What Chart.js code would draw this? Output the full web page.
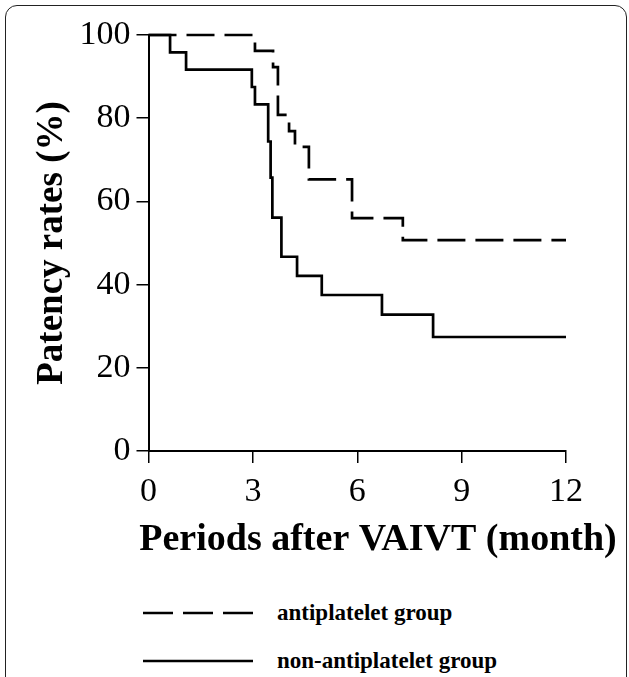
<!DOCTYPE html>
<html><head><meta charset="utf-8">
<script src="https://cdn.jsdelivr.net/npm/chart.js@4"></script>
<style>
html,body{margin:0;padding:0;background:#fff;width:629px;height:677px;overflow:hidden;font-family:"Liberation Serif",serif;}
#frame{position:absolute;left:5px;top:5px;width:622px;height:720px;border:1.5px solid #222;border-radius:12px;box-sizing:border-box;}
#wrap{position:absolute;left:0;top:0;width:629px;height:570px;}
.leg{position:absolute;left:143px;width:480px;height:30px;}
.leg svg{position:absolute;left:0;top:0;}
.leg span{position:absolute;left:134px;top:0;line-height:30px;font-weight:bold;font-size:23px;color:#000;font-family:"Liberation Serif",serif;white-space:nowrap;}
</style></head>
<body>
<div id="frame"></div>
<div id="wrap"><canvas id="c" width="629" height="570"></canvas></div>
<div class="leg" style="top:598px"><svg width="120" height="30"><line x1="0" y1="15" x2="112" y2="15" stroke="#000" stroke-width="2.6" stroke-dasharray="30 10"/></svg><span id="l1"></span></div>
<div class="leg" style="top:646px"><svg width="120" height="30"><line x1="0" y1="15" x2="110" y2="15" stroke="#000" stroke-width="2.6"/></svg><span id="l2"></span></div>
<script>
// ---- data ----
const antiTimes = [0, 3.06, 3.58, 3.72, 4.04, 4.21, 4.61, 5.85, 7.31, 12];
const antiRates = [100, 96.2, 92.3, 80.8, 76.9, 73.1, 65.3, 56.0, 50.7, 50.7];
const nonTimes  = [0, 0.62, 1.08, 2.97, 3.06, 3.44, 3.51, 3.56, 3.82, 4.27, 4.98, 6.71, 8.18, 12];
const nonRates  = [100, 95.8, 91.7, 87.5, 83.3, 74.4, 65.7, 56.1, 46.7, 42.1, 37.5, 32.8, 27.4, 27.4];
const xTicks = [0, 3, 6, 9, 12];
const yTicks = [0, 20, 40, 60, 80, 100];
const seriesLabels = ['antiplatelet group', 'non-antiplatelet group'];
const xTitle = 'Periods after VAIVT (month)';
const yTitle = 'Patency rates (%)';

document.getElementById('l1').textContent = seriesLabels[0];
document.getElementById('l2').textContent = seriesLabels[1];

const FAM = '"Liberation Serif", "Times New Roman", serif';
const toPts = (xs, ys) => xs.map((x, i) => ({x: x, y: ys[i]}));

const xTitlePlugin = {
  id: 'xTitle',
  afterDraw(chart) {
    const ctx = chart.ctx;
    ctx.save();
    ctx.font = 'bold 38px ' + FAM;
    ctx.fillStyle = '#000';
    ctx.textAlign = 'center';
    ctx.textBaseline = 'middle';
    ctx.fillText(xTitle, 378, 540);
    ctx.restore();
  }
};

new Chart(document.getElementById('c'), {
  type: 'line',
  data: {
    datasets: [
      {label: seriesLabels[0], data: toPts(antiTimes, antiRates), stepped: true, borderColor: '#000',
       borderWidth: 2.7, borderDash: [28, 10], pointRadius: 0, fill: false, clip: false},
      {label: seriesLabels[1], data: toPts(nonTimes, nonRates), stepped: true, borderColor: '#000',
       borderWidth: 2.7, pointRadius: 0, fill: false, clip: false}
    ]
  },
  options: {
    responsive: false,
    animation: false,
    devicePixelRatio: 1,
    layout: {padding: {left: 30, top: 35, right: 63, bottom: 0}},
    plugins: {legend: {display: false}, tooltip: {enabled: false}},
    scales: {
      x: {
        type: 'linear', min: 0, max: 12,
        afterBuildTicks: s => { s.ticks = xTicks.map(v => ({value: v})); },
        afterFit: s => { s.height = 119; },
        border: {display: true, color: '#000', width: 2},
        grid: {display: true, drawOnChartArea: false, drawTicks: true, tickLength: 12, color: '#000', lineWidth: 1.5},
        ticks: {font: {family: FAM, size: 34}, color: '#000', padding: 9, maxRotation: 0, autoSkip: false}
      },
      y: {
        type: 'linear', min: 0, max: 100,
        afterBuildTicks: s => { s.ticks = yTicks.map(v => ({value: v})); },
        afterFit: s => { s.width = 118.5; },
        border: {display: true, color: '#000', width: 2},
        grid: {display: true, drawOnChartArea: false, drawTicks: true, tickLength: 12, color: '#000', lineWidth: 1.5},
        ticks: {font: {family: FAM, size: 34}, color: '#000', padding: 6, autoSkip: false},
        title: {display: true, text: yTitle, color: '#000', font: {family: FAM, size: 37, weight: 'bold'}, padding: {top: 0, bottom: 0}}
      }
    }
  },
  plugins: [xTitlePlugin]
});
</script>
</body></html>
